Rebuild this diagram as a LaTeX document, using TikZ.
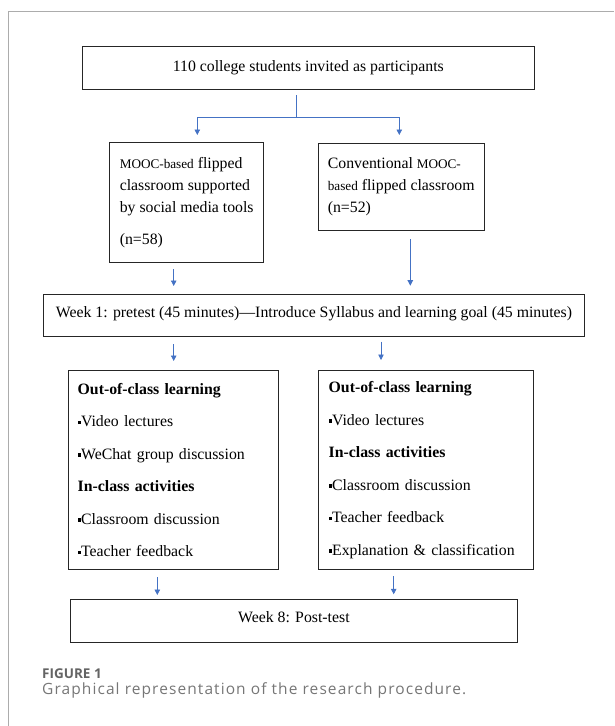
\documentclass[tikz,border=0pt]{standalone}
\usepackage{fontspec}
\setmainfont{Liberation Serif}
\newfontfamily\capfont[LetterSpace=7]{Open Sans}
\newfontfamily\figfont{Open Sans}
\usepackage{tikz}
\usetikzlibrary{arrows.meta}
\definecolor{arrowblue}{RGB}{68,114,196}
\definecolor{framegray}{RGB}{172,172,172}
\definecolor{capgray}{RGB}{118,118,118}
\newcommand{\sqb}{\raisebox{2.6pt}{\rule{3.4pt}{3.4pt}}}
\newcommand{\petit}[1]{{\fontsize{13.2}{13.2}\selectfont #1}}
\tikzset{
  boite/.style = {draw=black!85, line width=0.9pt, inner sep=0pt,
    font=\fontsize{15.8}{19}\selectfont},% cadre, texte centre
  groupe/.style = {boite, align=left, font=\fontsize{15.8}{22}\selectfont},% groupe, texte a gauche
  etape/.style = {boite, align=left, font=\fontsize{15.8}{32.5}\selectfont},% activites de la semaine
  haut/.style = {text depth=7.5pt},% texte un peu plus haut
  ligne/.style = {draw=arrowblue, line width=0.8pt},
  fleche/.style = {ligne, -{Triangle[width=5.5pt,length=5.5pt]}},
  cadre/.style = {draw=framegray, line width=1pt}
}

\begin{document}
\begin{tikzpicture}[x=1pt, y=-1pt]
  \useasboundingbox (0,0) rectangle (614,726);
  \draw [cadre] (8,726) -- (8,11) -- (614,11);
  % boites
  \node [boite, minimum width=452pt, minimum height=42.6pt] (part) at (308.3,68)
    {110 college students invited as participants};
  \node [groupe, minimum width=154pt, minimum height=119.6pt] (mooc1) at (186.7,202.5)
    {\petit{MOOC-based} flipped\\classroom supported\\by social media tools\\[10pt](n=58)};
  \node [groupe, minimum width=166.3pt, minimum height=86.7pt] (mooc2) at (401.2,186.7)
    {Conventional \petit{MOOC-}\\\petit{based} flipped classroom\\(n=52)};
  \node [boite, haut, minimum width=541.4pt, minimum height=42.7pt] (week1) at (314,315.3)
    {Week 1: pretest (45 minutes)---Introduce Syllabus and learning goal (45 minutes)};
  \node [etape, minimum width=210.3pt, minimum height=198.3pt, text width=191pt] (out1) at (173.2,469.9)
    {\textbf{Out-of-class learning}\\\sqb Video lectures\\\sqb WeChat group discussion\\
     \textbf{In-class activities}\\\sqb Classroom discussion\\\sqb Teacher feedback};
  \node [etape, minimum width=215pt, minimum height=198.6pt, text width=195pt] (out2) at (426.2,470)
    {\textbf{Out-of-class learning}\\\sqb Video lectures\\\textbf{In-class activities}\\
     \sqb Classroom discussion\\\sqb Teacher feedback\\\sqb Explanation \& classification};
  \node [boite, haut, minimum width=447.7pt, minimum height=43pt] (week8) at (293.9,620.8)
    {Week 8: Post-test};
  % fleches
  \coordinate (s0) at (296.3,95.3);
  \coordinate (fork) at (296.3,117.7);
  \coordinate (t1) at (197.3,135);
  \coordinate (t2) at (399.3,135);
  \draw [ligne] (s0) -- (fork);
  \draw [fleche] (fork) -| (t1);
  \draw [fleche] (fork) -| (t2);
  \foreach \n/\x/\ya/\yb in {1/173.7/269.3/286, 2/410.3/239.3/285.7,
                             3/173.7/344/361, 4/381/341.7/360,
                             5/157.3/577/595, 6/393.7/576/594.3}
  {
    \coordinate (a\n) at (\x,\ya);
    \coordinate (b\n) at (\x,\yb);
    \draw [fleche] (a\n) -- (b\n);
  }
  % legende
  \node [anchor=base west, inner sep=0pt, text=capgray!85!black, font=\figfont\bfseries\fontsize{13.5}{13.5}\selectfont] (fig) at (42,678.5) {FIGURE 1};
  \node [anchor=base west, inner sep=0pt, text=capgray, font=\capfont\fontsize{15.5}{15.5}\selectfont] (legende) at (42,694)
    {Graphical representation of the research procedure.};
\end{tikzpicture}
\end{document}
